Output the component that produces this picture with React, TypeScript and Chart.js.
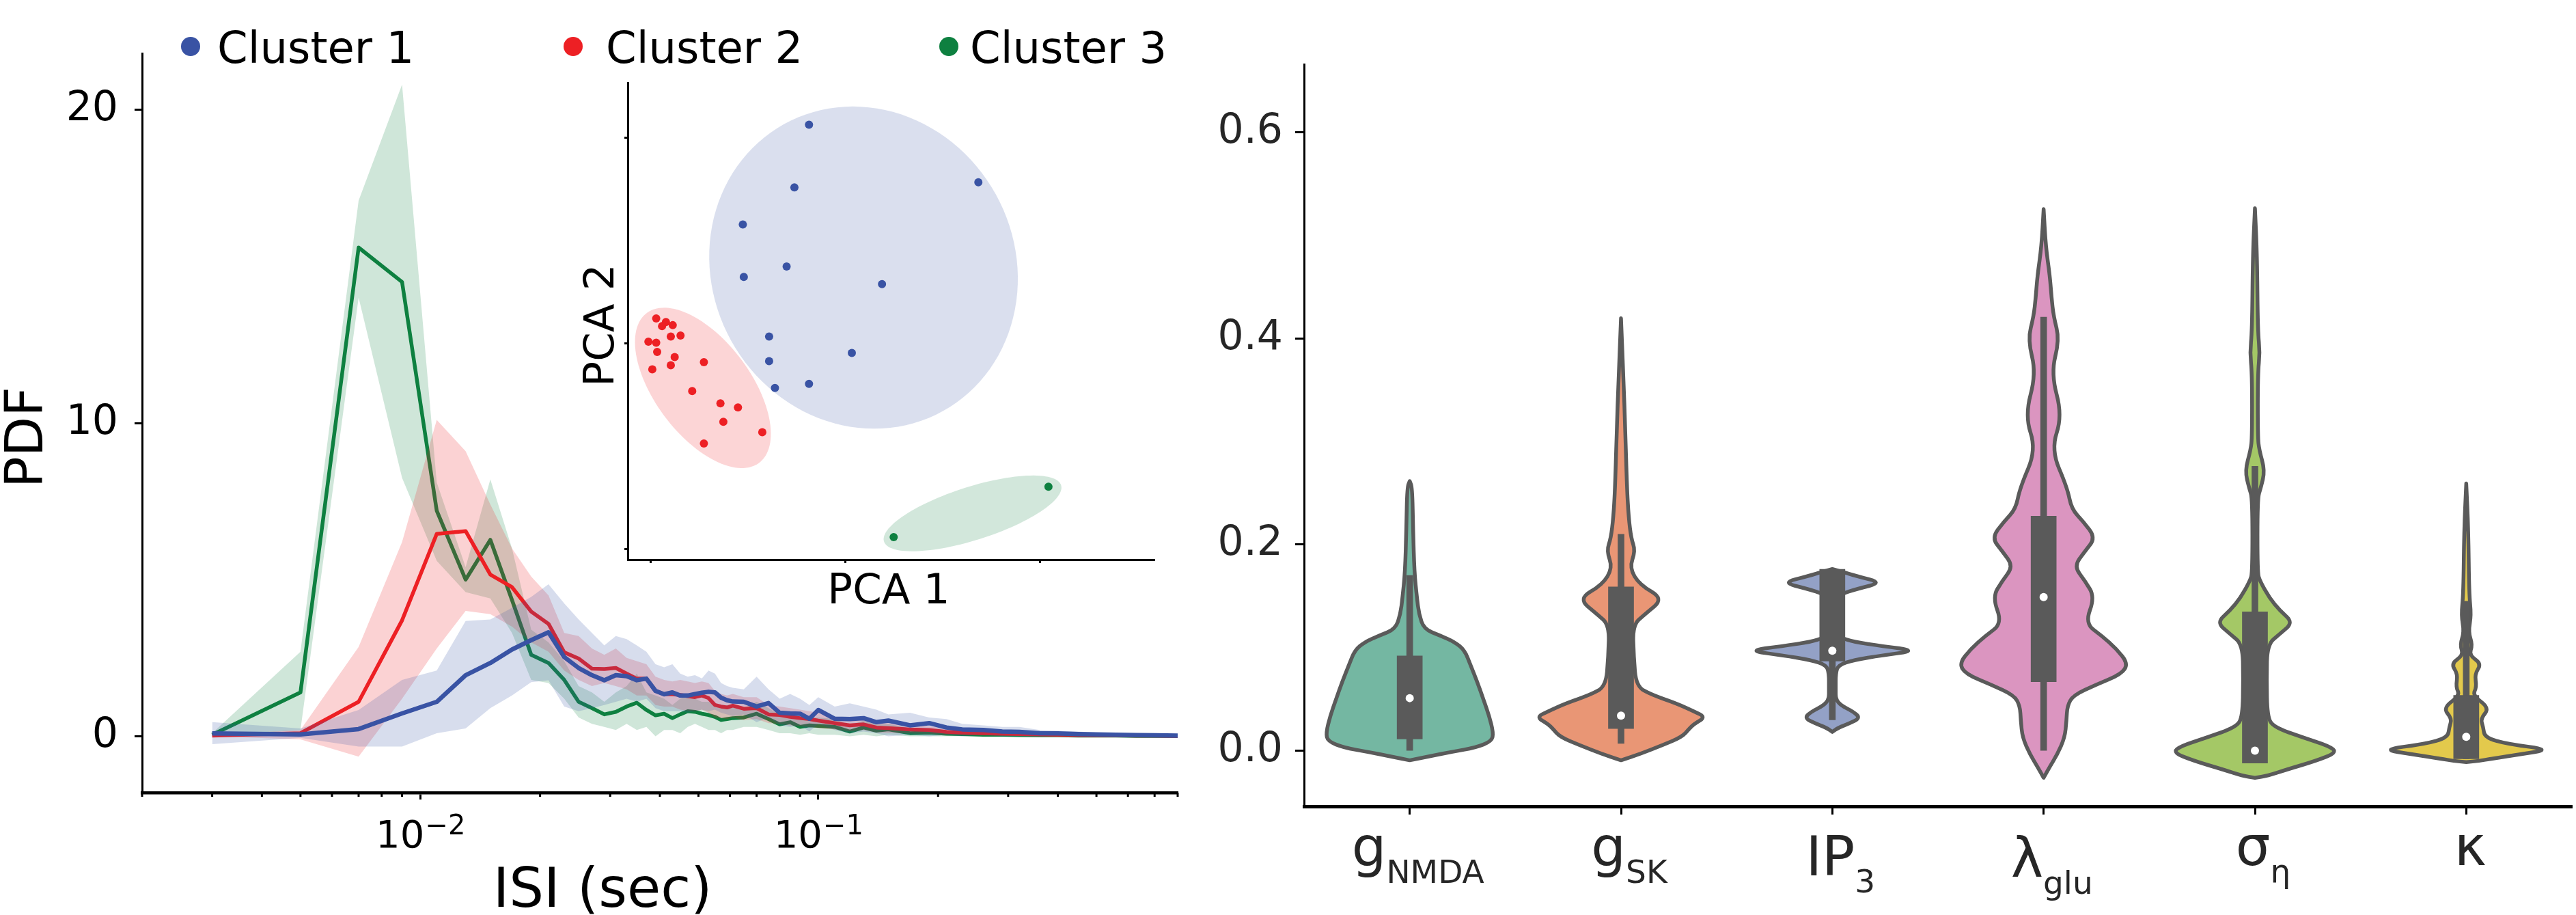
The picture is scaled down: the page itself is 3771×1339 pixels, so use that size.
import React, { useEffect, useRef } from 'react';
import { Chart, registerables } from 'chart.js';

Chart.register(...registerables);

const FONT = "'DejaVu Sans', 'Liberation Sans', sans-serif";

// ---------------- ISI distribution (left panel) ----------------
const isiSec = [0.003, 0.005, 0.007, 0.009, 0.011, 0.013, 0.015, 0.017, 0.019, 0.021, 0.023, 0.025, 0.027, 0.029, 0.031, 0.033, 0.035, 0.037, 0.039, 0.041, 0.043,
  0.045, 0.047, 0.049, 0.051, 0.053, 0.055, 0.057, 0.059, 0.061,
  0.065, 0.07, 0.075, 0.08, 0.085, 0.09, 0.095, 0.1,
  0.11, 0.12, 0.13, 0.14, 0.15, 0.17, 0.19, 0.21, 0.23,
  0.26, 0.29, 0.32, 0.36, 0.4, 0.45, 0.5, 0.56, 0.63, 0.7, 0.8];

const c1Pdf = [0.09, 0.06, 0.23, 0.73, 1.1, 1.95, 2.34, 2.77, 3.07, 3.32, 2.53, 2.18, 1.95, 1.79, 1.95, 1.92, 1.79, 1.84, 1.45, 1.34, 1.4,
  1.3, 1.3, 1.35, 1.39, 1.42, 1.4, 1.23, 1.15, 1.11,
  1.1, 0.95, 1.06, 0.75, 0.73, 0.72, 0.56, 0.84,
  0.56, 0.55, 0.58, 0.45, 0.5, 0.35, 0.42, 0.28, 0.22,
  0.2, 0.15, 0.14, 0.1, 0.09, 0.07, 0.06, 0.05, 0.04, 0.03, 0.02];
const c1Low = [-0.25, -0.05, -0.33, -0.33, 0.1, 0.25, 0.9, 1.3, 1.73, 1.79, 0.95, 0.8, 0.9, 1.0, 1.1, 1.2, 1.1, 1.2, 0.9, 0.8, 0.8,
  0.8, 0.75, 0.8, 0.85, 0.8, 0.85, 0.75, 0.7, 0.65,
  0.7, 0.45, 0.6, 0.35, 0.3, 0.35, 0.15, 0.4,
  0.2, 0.1, 0.15, 0.1, 0.0, 0.05, 0.0, 0.05, 0.0,
  0.05, 0, 0, 0, 0, 0, 0, 0, 0, 0, 0];
const c1High = [0.45, 0.25, 0.84, 1.8, 2.1, 3.68, 3.73, 4.1, 4.45, 4.85, 4.24, 3.73, 3.3, 2.9, 3.2, 3.1, 2.9, 2.7, 2.3, 2.2, 2.3,
  2.0, 1.9, 1.95, 1.85, 2.1, 2.0, 1.7, 1.6, 1.55,
  1.5, 1.9, 1.5, 1.2, 1.35, 1.2, 1.0, 1.25,
  0.95, 1.05, 0.95, 0.85, 0.7, 0.75, 0.6, 0.55, 0.4,
  0.35, 0.3, 0.3, 0.2, 0.18, 0.15, 0.12, 0.1, 0.08, 0.06, 0.04];

const c2Pdf = [0.02, 0.1, 1.1, 3.7, 6.46, 6.55, 5.16, 4.76, 3.98, 3.59, 2.68, 2.48, 2.16, 2.15, 2.18, 2.0, 1.84, 1.84, 1.45, 1.34, 1.34,
  1.32, 1.28, 1.25, 1.3, 1.22, 1.0, 0.95, 0.92, 0.98,
  0.88, 0.9, 0.7, 0.68, 0.62, 0.58, 0.55, 0.5,
  0.42, 0.35, 0.38, 0.28, 0.26, 0.22, 0.2, 0.14, 0.12,
  0.1, 0.08, 0.07, 0.06, 0.05, 0.04, 0.03, 0.03, 0.02, 0.02, 0.01];
const c2Low = [0.0, -0.1, -0.65, 1.2, 2.8, 4.0, 3.9, 3.5, 3.0, 2.7, 2.1, 1.8, 1.6, 1.7, 1.6, 1.5, 1.3, 1.3, 1.0, 0.95, 0.95,
  0.85, 0.82, 0.8, 0.85, 0.75, 0.6, 0.58, 0.55, 0.6,
  0.52, 0.55, 0.42, 0.4, 0.35, 0.32, 0.3, 0.26,
  0.22, 0.16, 0.2, 0.12, 0.11, 0.09, 0.08, 0.04, 0.04,
  0.03, 0.02, 0.02, 0.02, 0.01, 0.01, 0, 0, 0, 0, 0];
const c2High = [0.05, 0.2, 2.85, 6.2, 10.1, 9.1, 7.4, 6.0, 5.1, 4.5, 3.3, 3.2, 2.8, 2.6, 2.8, 2.5, 2.4, 2.3, 1.9, 1.8, 1.75,
  1.8, 1.75, 1.7, 1.75, 1.7, 1.45, 1.35, 1.3, 1.35,
  1.25, 1.25, 1.0, 0.95, 0.9, 0.85, 0.8, 0.75,
  0.62, 0.55, 0.55, 0.45, 0.42, 0.35, 0.32, 0.25, 0.2,
  0.17, 0.14, 0.12, 0.1, 0.09, 0.07, 0.06, 0.05, 0.04, 0.03, 0.02];

const c3Pdf = [0.05, 1.4, 15.6, 14.5, 7.2, 5.0, 6.27, 4.35, 2.6, 2.34, 1.8, 1.1, 0.9, 0.7, 0.78, 0.95, 1.07, 0.84, 0.67, 0.72, 0.58,
  0.7, 0.8, 0.78, 0.72, 0.68, 0.62, 0.52, 0.55, 0.58,
  0.6, 0.72, 0.55, 0.38, 0.45, 0.3, 0.35, 0.33,
  0.3, 0.15, 0.28, 0.18, 0.22, 0.1, 0.12, 0.08, 0.07,
  0.05, 0.05, 0.04, 0.03, 0.03, 0.02, 0.02, 0.02, 0.01, 0.01, 0.01];
const c3Low = [0.0, 0.2, 14.0, 8.25, 5.6, 4.6, 4.4, 3.3, 1.8, 1.7, 1.2, 0.6, 0.4, 0.3, 0.2, 0.4, 0.2, 0.3, 0.0, 0.2, 0.2,
  0.1, 0.3, 0.4, 0.3, 0.2, 0.2, 0.1, 0.2, 0.2,
  0.3, 0.3, 0.2, 0.1, 0.1, 0.05, 0.1, 0.05,
  0.05, 0.0, 0.05, 0.0, 0.05, 0, 0, 0, 0,
  0, 0, 0, 0, 0, 0, 0, 0, 0, 0, 0];
const c3High = [0.1, 2.7, 17.1, 20.8, 8.1, 5.4, 8.2, 6.0, 3.4, 3.0, 2.4, 1.6, 1.4, 1.1, 1.4, 1.6, 2.0, 1.4, 1.3, 1.2, 1.0,
  1.2, 1.3, 1.2, 1.1, 1.1, 1.0, 0.9, 1.0, 1.0,
  0.9, 1.1, 0.9, 0.7, 0.8, 0.6, 0.6, 0.6,
  0.55, 0.35, 0.5, 0.38, 0.4, 0.25, 0.25, 0.18, 0.15,
  0.12, 0.1, 0.08, 0.07, 0.06, 0.05, 0.04, 0.04, 0.03, 0.02, 0.02];

const clusterNames = ['Cluster 1', 'Cluster 2', 'Cluster 3'];
const clusterColors = ['#3953a4', '#ed2024', '#0e8040'];
const pdfTicks = [0, 10, 20];
const isiTicks = [0.002, 0.003, 0.004, 0.005, 0.006, 0.007, 0.008, 0.009, 0.01,
  0.02, 0.03, 0.04, 0.05, 0.06, 0.07, 0.08, 0.09, 0.1,
  0.2, 0.3, 0.4, 0.5, 0.6, 0.7, 0.8];

// ---------------- PCA inset ----------------
const pca1X = [-0.37, 1.37, -0.52, -1.05, -1.04, -0.60, 0.38, -0.78, -0.78, 0.07, -0.72, -0.37];
const pca1Y = [2.13, 1.57, 1.52, 1.16, 0.65, 0.75, 0.58, 0.07, -0.17, -0.09, -0.43, -0.39];
const pca2X = [-1.94, -1.84, -1.88, -1.77, -1.79, -1.69, -2.02, -1.94, -1.93, -1.75, -1.79, -1.98, -1.45, -1.57, -1.28, -1.10, -1.25, -0.85, -1.45];
const pca2Y = [0.246, 0.21, 0.17, 0.18, 0.07, 0.08, 0.02, 0.01, -0.08, -0.13, -0.21, -0.25, -0.18, -0.46, -0.58, -0.62, -0.76, -0.86, -0.97];
const pca3X = [0.50, 2.09];
const pca3Y = [-1.88, -1.39];
const ellCx = [0.19, -1.46, 1.31];
const ellCy = [0.74, -0.43, -1.65];
const ellA = [1.63, 0.93, 0.95];
const ellB = [1.52, 0.48, 0.26];
const ellAngle = [140, -50.5, 16.6];
const pcaTicks = [-2, 0, 2];

// ---------------- Violins (right panel) ----------------
const paramMain = ['g', 'g', 'IP', 'λ', 'σ', 'κ'];
const paramSub = ['NMDA', 'SK', '3', 'glu', 'η', ''];
const violinColors = ['#74b7a2', '#e99675', '#93a1c6', '#db95c0', '#a4c866', '#e3c94c'];
const valueTicks = [0, 0.2, 0.4, 0.6];

const v1Y = [0.2616, 0.2554, 0.2143, 0.1733, 0.1487, 0.1322, 0.1179, 0.1117, 0.1056, 0.0974, 0.083, 0.0666, 0.0502, 0.0338, 0.0173, 0.0092, 0.003, -0.0011, -0.0052, -0.0093];
const v1W = [0, 0.03, 0.04, 0.055, 0.085, 0.11, 0.17, 0.36, 0.53, 0.65, 0.72, 0.80, 0.87, 0.94, 0.99, 0.97, 0.78, 0.50, 0.25, 0];
const v2Y = [0.4195, 0.358, 0.3128, 0.2554, 0.2267, 0.2061, 0.1938, 0.1774, 0.161, 0.1475, 0.1322, 0.122, 0.0912, 0.0625, 0.0543, 0.0461, 0.0379, 0.0326, 0.0256, 0.0215, 0.0133, 0.0051, -0.0031, -0.0093];
const v2W = [0, 0.03, 0.05, 0.07, 0.09, 0.12, 0.17, 0.10, 0.22, 0.505, 0.28, 0.14, 0.15, 0.18, 0.36, 0.65, 0.87, 1.0, 0.86, 0.81, 0.72, 0.48, 0.23, 0];
const v3Y = [0.1762, 0.1741, 0.1693, 0.1631, 0.1569, 0.152, 0.1467, 0.13, 0.115, 0.1097, 0.1056, 0.1015, 0.097, 0.0925, 0.0879, 0.083, 0.0748, 0.06, 0.0502, 0.044, 0.0378, 0.0317, 0.0264, 0.0223, 0.0182];
const v3W = [0, 0.10, 0.29, 0.59, 0.29, 0.10, 0.06, 0.06, 0.06, 0.10, 0.25, 0.59, 1.0, 0.59, 0.25, 0.07, 0.04, 0.04, 0.04, 0.10, 0.25, 0.33, 0.20, 0.07, 0];
const v4Y = [0.5254, 0.4892, 0.4604, 0.4399, 0.4214, 0.3988, 0.366, 0.3249, 0.292, 0.255, 0.2345, 0.2222, 0.2066, 0.1935, 0.179, 0.1647, 0.149, 0.1236, 0.1113, 0.0989, 0.0846, 0.0743, 0.064, 0.0537, 0.0435, 0.0291, 0.0127, -0.0037, -0.016, -0.0263];
const v4W = [0, 0.025, 0.074, 0.093, 0.118, 0.187, 0.088, 0.221, 0.088, 0.28, 0.33, 0.47, 0.614, 0.49, 0.359, 0.49, 0.605, 0.49, 0.69, 0.86, 1.0, 0.92, 0.62, 0.35, 0.28, 0.27, 0.25, 0.16, 0.07, 0];
const v5Y = [0.5262, 0.481, 0.4069, 0.3865, 0.366, 0.3044, 0.292, 0.2715, 0.255, 0.2447, 0.1729, 0.1647, 0.1482, 0.1359, 0.1244, 0.1133, 0.103, 0.0701, 0.0332, 0.0229, 0.0127, 0.0045, -0.0018, -0.0099, -0.0182, -0.0243, -0.0263];
const v5W = [0, 0.025, 0.034, 0.059, 0.034, 0.034, 0.05, 0.118, 0.069, 0.03, 0.03, 0.059, 0.172, 0.295, 0.452, 0.295, 0.147, 0.138, 0.147, 0.22, 0.57, 0.88, 0.97, 0.72, 0.38, 0.15, 0];
const v6Y = [0.2592, 0.2138, 0.152, 0.1316, 0.1151, 0.1028, 0.0926, 0.0845, 0.0742, 0.0618, 0.0536, 0.0414, 0.0311, 0.0229, 0.0127, 0.0064, 0.0011, -0.0037, -0.0078, -0.0099, -0.0111];
const v6W = [0, 0.025, 0.034, 0.059, 0.025, 0.074, 0.034, 0.18, 0.10, 0.123, 0.075, 0.275, 0.17, 0.2, 0.22, 0.49, 1.0, 0.62, 0.30, 0.15, 0];

const boxQ1 = [0.0113, 0.0215, 0.087, 0.0669, -0.012, -0.0078];
const boxQ3 = [0.092, 0.159, 0.176, 0.2275, 0.1347, 0.0536];
const whiskLo = [0.0, 0.007, 0.03, 0.0, -0.012, -0.0078];
const whiskHi = [0.17, 0.21, 0.176, 0.4206, 0.276, 0.145];
const medians = [0.051, 0.034, 0.097, 0.149, 0.0, 0.0134];

const BOX = '#5a5a5a';

function rgba(hex: string, a: number) {
  const n = parseInt(hex.slice(1), 16);
  return `rgba(${(n >> 16) & 255},${(n >> 8) & 255},${n & 255},${a})`;
}

function isDecade(v: number) {
  const e = Math.log10(v);
  return Math.abs(e - Math.round(e)) < 1e-6;
}

function leftConfig(): any {
  const pts = (arr: number[]) => isiSec.map((x, i) => ({ x, y: arr[i] }));
  const series = [
    [c1Pdf, c1Low, c1High],
    [c2Pdf, c2Low, c2High],
    [c3Pdf, c3Low, c3High],
  ];
  const datasets: any[] = [];
  series.forEach(([m, lo, hi], k) => {
    const col = clusterColors[k];
    datasets.push({ label: clusterNames[k], data: pts(m), borderColor: col, borderWidth: k === 0 ? 6.5 : 5.5, pointRadius: 0, tension: 0, fill: false, borderJoinStyle: 'round', order: k * 3 });
    datasets.push({ label: clusterNames[k] + ' upper', data: pts(hi), borderColor: 'rgba(0,0,0,0)', borderWidth: 1, pointRadius: 0, tension: 0, backgroundColor: rgba(col, 0.2), fill: '+1', order: k * 3 + 1 });
    datasets.push({ label: clusterNames[k] + ' lower', data: pts(lo), borderColor: 'rgba(0,0,0,0)', borderWidth: 1, pointRadius: 0, tension: 0, fill: false, order: k * 3 + 2 });
  });

  const textPlugin = {
    id: 'leftTexts',
    afterDraw(chart: any) {
      const { ctx, scales: { x } } = chart;
      ctx.save();
      // minor ticks (shorter) and decade labels on the log axis
      ctx.strokeStyle = '#000';
      ctx.lineWidth = 3;
      isiTicks.forEach((v) => {
        if (isDecade(v)) return;
        const px = x.getPixelForValue(v);
        ctx.beginPath();
        ctx.moveTo(px, x.top);
        ctx.lineTo(px, x.top + 6);
        ctx.stroke();
      });
      ctx.fillStyle = '#000';
      ctx.textBaseline = 'alphabetic';
      ctx.textAlign = 'left';
      isiTicks.forEach((v) => {
        if (!isDecade(v)) return;
        const px = x.getPixelForValue(v);
        const exp = String(Math.round(Math.log10(v))).replace('-', '\u2212');
        ctx.font = `56px ${FONT}`;
        const w1 = ctx.measureText('10').width;
        ctx.font = `40px ${FONT}`;
        const w2 = ctx.measureText(exp).width;
        const x0 = px - (w1 + w2) / 2;
        const base = x.top + 80;
        ctx.font = `56px ${FONT}`;
        ctx.fillText('10', x0, base);
        ctx.font = `40px ${FONT}`;
        ctx.fillText(exp, x0 + w1 + 1, base - 19);
      });
      // legend
      const dotX = [279, 839, 1389];
      const txtX = [318, 887, 1420];
      ctx.font = `64px ${FONT}`;
      clusterNames.forEach((n, i) => {
        ctx.fillStyle = clusterColors[i];
        ctx.beginPath();
        ctx.arc(dotX[i], 68, 14, 0, Math.PI * 2);
        ctx.fill();
        ctx.fillStyle = '#000';
        ctx.fillText(n, txtX[i], 92);
      });
      // axis titles
      ctx.font = `80px ${FONT}`;
      ctx.textAlign = 'center';
      ctx.fillText('ISI (sec)', 882, 1327);
      ctx.translate(62, 640);
      ctx.rotate(-Math.PI / 2);
      ctx.font = `76px ${FONT}`;
      ctx.fillText('PDF', 0, 0);
      ctx.restore();
    },
  };

  return {
    type: 'line',
    data: { datasets },
    plugins: [textPlugin],
    options: {
      responsive: false,
      animation: false,
      layout: { padding: { left: 0, right: 36, top: 78, bottom: 0 } },
      plugins: { legend: { display: false }, tooltip: { enabled: false } },
      scales: {
        x: {
          type: 'logarithmic',
          min: 0.002,
          max: 0.8,
          afterBuildTicks: (s: any) => { s.ticks = isiTicks.map((v) => ({ value: v })); },
          afterFit: (s: any) => { s.height = 179; },
          ticks: { display: false, autoSkip: false },
          grid: {
            drawOnChartArea: false, drawTicks: true, tickLength: 10, tickWidth: 3,
            tickColor: (c: any) => (c.tick && isDecade(c.tick.value) ? '#000' : 'rgba(0,0,0,0)'),
          },
          border: { display: true, color: '#000', width: 4.5 },
        },
        y: {
          type: 'linear',
          min: -1.8,
          max: 21.8,
          afterBuildTicks: (s: any) => { s.ticks = pdfTicks.map((v) => ({ value: v })); },
          afterFit: (s: any) => { s.width = 208; },
          ticks: { padding: 24, color: '#000', font: { family: FONT, size: 60 }, callback: (v: any) => String(v) },
          grid: { drawOnChartArea: false, drawTicks: true, tickLength: 11, tickWidth: 3, tickColor: '#000' },
          border: { display: true, color: '#000', width: 3 },
        },
      },
    },
  };
}

function insetConfig(): any {
  const sets = [[pca1X, pca1Y], [pca2X, pca2Y], [pca3X, pca3Y]];
  const datasets = sets.map(([xs, ys], k) => ({
    label: clusterNames[k],
    data: xs.map((x, i) => ({ x, y: ys[i] })),
    pointRadius: 6,
    pointBorderWidth: 0,
    pointBackgroundColor: clusterColors[k],
    backgroundColor: clusterColors[k],
  }));

  const ellipsePlugin = {
    id: 'ellipses',
    beforeDatasetsDraw(chart: any) {
      const { ctx, scales: { x, y } } = chart;
      ctx.save();
      ellCx.forEach((cx, k) => {
        const th = (ellAngle[k] * Math.PI) / 180;
        ctx.beginPath();
        for (let t = 0; t <= 360; t += 3) {
          const r = (t * Math.PI) / 180;
          const dx = ellA[k] * Math.cos(th) * Math.cos(r) - ellB[k] * Math.sin(th) * Math.sin(r);
          const dy = ellA[k] * Math.sin(th) * Math.cos(r) + ellB[k] * Math.cos(th) * Math.sin(r);
          const px = x.getPixelForValue(cx + dx);
          const py = y.getPixelForValue(ellCy[k] + dy);
          if (t === 0) ctx.moveTo(px, py); else ctx.lineTo(px, py);
        }
        ctx.closePath();
        ctx.fillStyle = rgba(clusterColors[k], 0.19);
        ctx.fill();
      });
      ctx.restore();
    },
  };

  const textPlugin = {
    id: 'insetTexts',
    afterDraw(chart: any) {
      const { ctx } = chart;
      ctx.save();
      ctx.fillStyle = '#000';
      ctx.font = `61px ${FONT}`;
      ctx.textAlign = 'center';
      ctx.textBaseline = 'alphabetic';
      ctx.fillText('PCA 1', 521, 783);
      ctx.translate(118, 376);
      ctx.rotate(-Math.PI / 2);
      ctx.fillText('PCA 2', 0, 0);
      ctx.restore();
    },
  };

  const axisCommon = {
    type: 'linear',
    afterBuildTicks: (s: any) => { s.ticks = pcaTicks.map((v) => ({ value: v })); },
    ticks: { display: false },
    grid: { drawOnChartArea: false, drawTicks: true, tickLength: 5, tickWidth: 3, tickColor: '#000' },
    border: { display: true, color: '#000', width: 3 },
  };

  return {
    type: 'scatter',
    data: { datasets },
    plugins: [ellipsePlugin, textPlugin],
    options: {
      responsive: false,
      animation: false,
      layout: { padding: { left: 0, right: 30, top: 21, bottom: 0 } },
      plugins: { legend: { display: false }, tooltip: { enabled: false } },
      scales: {
        x: { ...axisCommon, min: -2.232, max: 3.179, afterFit: (s: any) => { s.height = 101; } },
        y: { ...axisCommon, min: -2.1, max: 2.538, afterFit: (s: any) => { s.width = 139; } },
      },
    },
  };
}

function rightConfig(): any {
  const vYs = [v1Y, v2Y, v3Y, v4Y, v5Y, v6Y];
  const vWs = [v1W, v2W, v3W, v4W, v5W, v6W];

  const violinPlugin = {
    id: 'violins',
    beforeDatasetsDraw(chart: any) {
      const { ctx, scales: { x, y } } = chart;
      const catW = x.getPixelForValue(1) - x.getPixelForValue(0);
      const half = 0.4 * catW;
      ctx.save();
      vYs.forEach((ys, i) => {
        const cx = x.getPixelForValue(i);
        const ws = vWs[i];
        const pts: [number, number][] = [];
        ys.forEach((v, j) => pts.push([cx + ws[j] * half, y.getPixelForValue(v)]));
        for (let j = ys.length - 1; j >= 0; j--) pts.push([cx - ws[j] * half, y.getPixelForValue(ys[j])]);
        const n = pts.length;
        const mid = (a: [number, number], b: [number, number]) => [(a[0] + b[0]) / 2, (a[1] + b[1]) / 2];
        ctx.beginPath();
        const m0 = mid(pts[n - 1], pts[0]);
        ctx.moveTo(m0[0], m0[1]);
        for (let j = 0; j < n; j++) {
          const p = pts[j];
          const q = pts[(j + 1) % n];
          const m = mid(p, q);
          ctx.quadraticCurveTo(p[0], p[1], m[0], m[1]);
        }
        ctx.closePath();
        ctx.fillStyle = violinColors[i];
        ctx.fill();
        ctx.lineWidth = 5.5;
        ctx.lineJoin = 'round';
        ctx.strokeStyle = BOX;
        ctx.stroke();
      });
      ctx.restore();
    },
  };

  const labelPlugin = {
    id: 'paramLabels',
    afterDraw(chart: any) {
      const { ctx, scales: { x } } = chart;
      const top = x.top + 42;
      ctx.save();
      ctx.fillStyle = '#262626';
      ctx.textAlign = 'left';
      ctx.textBaseline = 'alphabetic';
      paramMain.forEach((m, i) => {
        const s = paramSub[i];
        ctx.font = `80px ${FONT}`;
        const mm = ctx.measureText(m);
        ctx.font = `47px ${FONT}`;
        const sw = s ? ctx.measureText(s).width : 0;
        const cx = x.getPixelForValue(i) + (s ? 12 : 6);
        const x0 = cx - (mm.width + sw) / 2;
        const base = top + mm.actualBoundingBoxAscent;
        ctx.font = `80px ${FONT}`;
        ctx.fillText(m, x0, base);
        if (s) {
          ctx.font = `47px ${FONT}`;
          ctx.fillText(s, x0 + mm.width, base + 25);
        }
      });
      ctx.restore();
    },
  };

  return {
    type: 'bar',
    data: {
      labels: paramMain.map((m, i) => m + paramSub[i]),
      datasets: [
        { type: 'line', label: 'median', data: medians, showLine: false, pointRadius: 6, pointBorderWidth: 0, pointBackgroundColor: '#ffffff', order: 0 },
        { type: 'bar', label: 'IQR', data: boxQ1.map((v, i) => [v, boxQ3[i]]), backgroundColor: BOX, borderWidth: 0, barThickness: 37, grouped: false, order: 1 },
        { type: 'bar', label: 'whisker', data: whiskLo.map((v, i) => [v, whiskHi[i]]), backgroundColor: BOX, borderWidth: 0, barThickness: 9, grouped: false, order: 2 },
      ],
    },
    plugins: [violinPlugin, labelPlugin],
    options: {
      responsive: false,
      animation: false,
      layout: { padding: { left: 0, right: 2, top: 94, bottom: 0 } },
      plugins: { legend: { display: false }, tooltip: { enabled: false } },
      scales: {
        x: {
          type: 'category',
          offset: true,
          afterFit: (s: any) => { s.height = 159; },
          ticks: { autoSkip: false, maxRotation: 0, callback: () => '' },
          grid: { offset: false, drawOnChartArea: false, drawTicks: true, tickLength: 12, tickWidth: 3, tickColor: '#000' },
          border: { display: true, color: '#000', width: 5 },
        },
        y: {
          type: 'linear',
          min: -0.054,
          max: 0.666,
          afterBuildTicks: (s: any) => { s.ticks = valueTicks.map((v) => ({ value: v })); },
          afterFit: (s: any) => { s.width = 149; },
          ticks: { padding: 18, color: '#262626', font: { family: FONT, size: 60 }, callback: (v: any) => Number(v).toFixed(1) },
          grid: { drawOnChartArea: false, drawTicks: true, tickLength: 13, tickWidth: 3, tickColor: '#000' },
          border: { display: true, color: '#000', width: 3 },
        },
      },
    },
  };
}

export default function App() {
  const leftRef = useRef<HTMLCanvasElement>(null);
  const insetRef = useRef<HTMLCanvasElement>(null);
  const rightRef = useRef<HTMLCanvasElement>(null);

  useEffect(() => {
    const charts: Chart[] = [];
    if (leftRef.current) charts.push(new Chart(leftRef.current, leftConfig()));
    if (rightRef.current) charts.push(new Chart(rightRef.current, rightConfig()));
    if (insetRef.current) charts.push(new Chart(insetRef.current, insetConfig()));
    return () => charts.forEach((c) => c.destroy());
  }, []);

  return (
    <div style={{ position: 'absolute', left: 0, top: 0, width: 3771, height: 1339, background: '#fff', overflow: 'hidden' }}>
      <canvas ref={leftRef} width={1760} height={1339} style={{ position: 'absolute', left: 0, top: 0, width: 1760, height: 1339 }} />
      <canvas ref={rightRef} width={2011} height={1339} style={{ position: 'absolute', left: 1760, top: 0, width: 2011, height: 1339 }} />
      <canvas ref={insetRef} width={940} height={820} style={{ position: 'absolute', left: 780, top: 100, width: 940, height: 820 }} />
    </div>
  );
}
